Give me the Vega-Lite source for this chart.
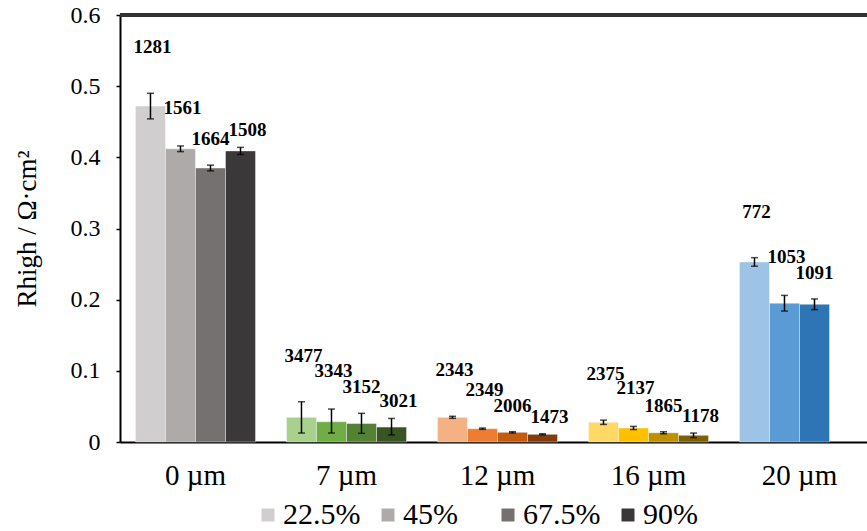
{
  "$schema": "https://vega.github.io/schema/vega-lite/v6.json",
  "width": 747,
  "height": 427,
  "autosize": {"type": "none"},
  "padding": {"left": 120, "top": 15, "right": 0, "bottom": 89},
  "background": "white",
  "config": {
    "font": "Liberation Serif",
    "view": {"stroke": null},
    "axis": {"labelFont": "Liberation Serif", "titleFont": "Liberation Serif", "labelColor": "black", "titleColor": "black", "grid": false, "domainColor": "black", "domainWidth": 2, "tickColor": "black"},
    "legend": {"labelFont": "Liberation Serif", "labelColor": "black"}
  },
  "data": {
    "values": [
      {"size": "0 µm", "rh": "22.5%", "value": 0.472, "lo": 0.454, "hi": 0.490, "label": 1281},
      {"size": "0 µm", "rh": "45%", "value": 0.412, "lo": 0.408, "hi": 0.416, "label": 1561},
      {"size": "0 µm", "rh": "67.5%", "value": 0.385, "lo": 0.381, "hi": 0.389, "label": 1664},
      {"size": "0 µm", "rh": "90%", "value": 0.409, "lo": 0.404, "hi": 0.414, "label": 1508},
      {"size": "7 µm", "rh": "22.5%", "value": 0.0347, "lo": 0.0126, "hi": 0.0566, "label": 3477},
      {"size": "7 µm", "rh": "45%", "value": 0.0285, "lo": 0.0126, "hi": 0.0463, "label": 3343},
      {"size": "7 µm", "rh": "67.5%", "value": 0.026, "lo": 0.0122, "hi": 0.0403, "label": 3152},
      {"size": "7 µm", "rh": "90%", "value": 0.021, "lo": 0.0098, "hi": 0.0331, "label": 3021},
      {"size": "12 µm", "rh": "22.5%", "value": 0.0347, "lo": 0.0333, "hi": 0.0361, "label": 2343},
      {"size": "12 µm", "rh": "45%", "value": 0.0187, "lo": 0.0178, "hi": 0.0196, "label": 2349},
      {"size": "12 µm", "rh": "67.5%", "value": 0.0136, "lo": 0.0127, "hi": 0.0145, "label": 2006},
      {"size": "12 µm", "rh": "90%", "value": 0.0108, "lo": 0.0100, "hi": 0.0116, "label": 1473},
      {"size": "16 µm", "rh": "22.5%", "value": 0.0277, "lo": 0.0247, "hi": 0.0307, "label": 2375},
      {"size": "16 µm", "rh": "45%", "value": 0.0197, "lo": 0.0175, "hi": 0.0219, "label": 2137},
      {"size": "16 µm", "rh": "67.5%", "value": 0.013, "lo": 0.0116, "hi": 0.0144, "label": 1865},
      {"size": "16 µm", "rh": "90%", "value": 0.0094, "lo": 0.0062, "hi": 0.0126, "label": 1178},
      {"size": "20 µm", "rh": "22.5%", "value": 0.253, "lo": 0.247, "hi": 0.259, "label": 772},
      {"size": "20 µm", "rh": "45%", "value": 0.195, "lo": 0.184, "hi": 0.206, "label": 1053},
      {"size": "20 µm", "rh": "67.5%", "value": 0.1935, "lo": 0.186, "hi": 0.201, "label": 1091}
    ]
  },
  "transform": [{"calculate": "datum.size + ' ' + datum.rh", "as": "key"}],
  "layer": [
    {
      "mark": {"type": "rule", "color": "#333333", "strokeWidth": 2.5},
      "encoding": {"y": {"datum": 0.6, "type": "quantitative"}}
    },
    {
      "encoding": {
        "x": {
          "field": "size", "type": "nominal",
          "scale": {"domain": ["0 µm", "7 µm", "12 µm", "16 µm", "20 µm"], "paddingInner": 0.205, "paddingOuter": 0.076, "align": 0.674},
          "axis": {"title": null, "labelAngle": 0, "labelFontSize": 29, "labelPadding": 19, "ticks": false, "domainWidth": 2}
        },
        "xOffset": {
          "field": "rh", "type": "nominal",
          "scale": {"domain": ["22.5%", "45%", "67.5%", "90%"], "paddingInner": 0, "paddingOuter": 0}
        }
      },
      "layer": [
        {
          "mark": {"type": "bar", "stroke": "white", "strokeWidth": 0.8, "strokeOpacity": 0.5},
          "encoding": {
            "y": {
              "field": "value", "type": "quantitative",
              "scale": {"domain": [0, 0.6], "nice": false},
              "axis": {
                "title": "Rhigh / Ω·cm²", "titleFontSize": 27, "titleFontWeight": "normal", "titlePadding": 29,
                "labelFontSize": 24, "labelPadding": 16, "tickSize": 4, "tickWidth": 1.5,
                "values": [0, 0.1, 0.2, 0.3, 0.4, 0.5, 0.6],
                "labelExpr": "datum.value == 0 ? '0' : format(datum.value, '.1f')"
              }
            },
            "color": {
              "field": "key", "type": "nominal",
              "scale": {
                "domain": ["0 µm 22.5%", "0 µm 45%", "0 µm 67.5%", "0 µm 90%",
                           "7 µm 22.5%", "7 µm 45%", "7 µm 67.5%", "7 µm 90%",
                           "12 µm 22.5%", "12 µm 45%", "12 µm 67.5%", "12 µm 90%",
                           "16 µm 22.5%", "16 µm 45%", "16 µm 67.5%", "16 µm 90%",
                           "20 µm 22.5%", "20 µm 45%", "20 µm 67.5%"],
                "range": ["#D0CECE", "#AEAAAA", "#767171", "#3A3838",
                          "#A9D18E", "#70AD47", "#548235", "#375623",
                          "#F4B183", "#ED7D31", "#C55A11", "#843C0C",
                          "#FFD966", "#FFC000", "#BF9000", "#7F6000",
                          "#9DC3E6", "#5B9BD5", "#2E75B6"]
              },
              "legend": {
                "values": ["0 µm 22.5%", "0 µm 45%", "0 µm 67.5%", "0 µm 90%"],
                "labelExpr": "split(datum.label, ' ')[2]",
                "title": null, "orient": "none", "direction": "horizontal",
                "legendX": 133, "legendY": 485, "columns": 4, "gridAlign": "all",
                "symbolType": "square", "symbolSize": 169, "symbolStrokeWidth": 0,
                "labelFontSize": 30, "labelOffset": 0, "columnPadding": 12
              }
            }
          }
        },
        {
          "mark": {"type": "rule", "color": "black", "strokeWidth": 1.5},
          "encoding": {"y": {"field": "lo", "type": "quantitative"}, "y2": {"field": "hi"}}
        },
        {
          "mark": {"type": "tick", "orient": "horizontal", "color": "black", "size": 7, "thickness": 1.5},
          "encoding": {"y": {"field": "lo", "type": "quantitative"}}
        },
        {
          "mark": {"type": "tick", "orient": "horizontal", "color": "black", "size": 7, "thickness": 1.5},
          "encoding": {"y": {"field": "hi", "type": "quantitative"}}
        },
        {
          "transform": [{"filter": "datum.rh == '22.5%'"}],
          "mark": {"type": "text", "fontWeight": "bold", "fontSize": 19, "baseline": "middle", "dx": 2, "dy": -46, "color": "black"},
          "encoding": {"y": {"field": "hi", "type": "quantitative"}, "text": {"field": "label"}}
        },
        {
          "transform": [{"filter": "datum.rh == '45%'"}],
          "mark": {"type": "text", "fontWeight": "bold", "fontSize": 19, "baseline": "middle", "dx": 2, "dy": -38, "color": "black"},
          "encoding": {"y": {"field": "hi", "type": "quantitative"}, "text": {"field": "label"}}
        },
        {
          "transform": [{"filter": "datum.rh == '67.5%'"}],
          "mark": {"type": "text", "fontWeight": "bold", "fontSize": 19, "baseline": "middle", "dx": 0, "dy": -26, "color": "black"},
          "encoding": {"y": {"field": "hi", "type": "quantitative"}, "text": {"field": "label"}}
        },
        {
          "transform": [{"filter": "datum.rh == '90%'"}],
          "mark": {"type": "text", "fontWeight": "bold", "fontSize": 19, "baseline": "middle", "dx": 7, "dy": -17, "color": "black"},
          "encoding": {"y": {"field": "hi", "type": "quantitative"}, "text": {"field": "label"}}
        }
      ]
    }
  ]
}
